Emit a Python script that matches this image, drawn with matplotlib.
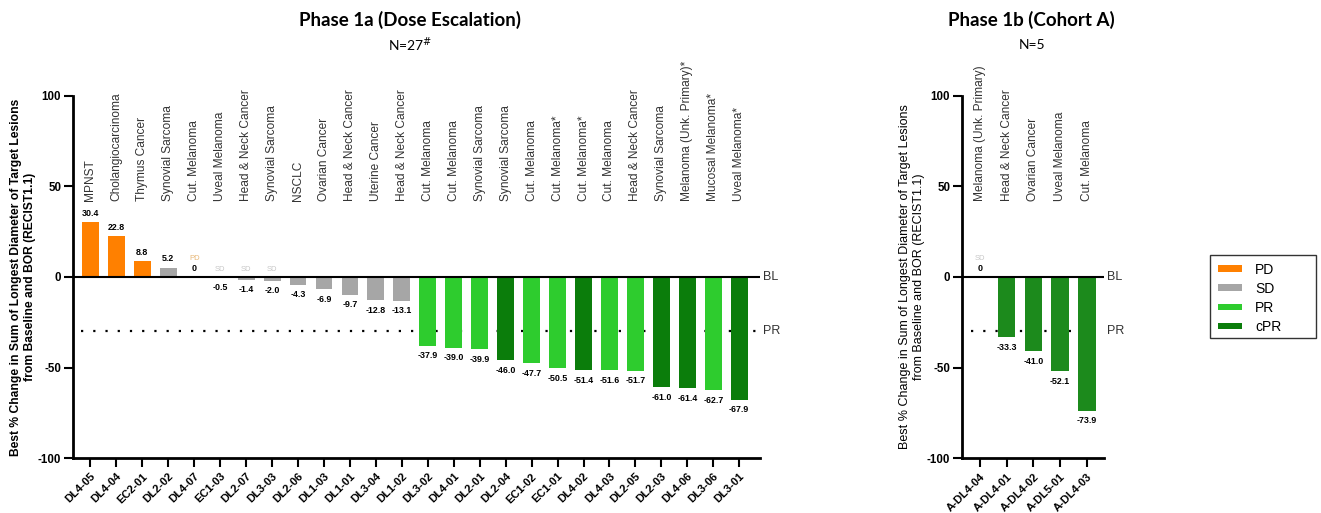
import matplotlib as mpl
mpl.use('Agg')
import matplotlib.pyplot as plt
from matplotlib.patches import Patch, Rectangle

plt.rcParams['font.family'] = ['Liberation Sans', 'DejaVu Sans']

# Phase 1a (dose escalation)
ids_1a = ["DL4-05", "DL4-04", "EC2-01", "DL2-02", "DL4-07", "EC1-03", "DL2-07",
          "DL3-03", "DL2-06", "DL1-03", "DL1-01", "DL3-04", "DL1-02", "DL3-02",
          "DL4-01", "DL2-01", "DL2-04", "EC1-02", "EC1-01", "DL4-02", "DL4-03",
          "DL2-05", "DL2-03", "DL4-06", "DL3-06", "DL3-01"]
cancer_1a = ["MPNST", "Cholangiocarcinoma", "Thymus Cancer", "Synovial Sarcoma",
             "Cut. Melanoma", "Uveal Melanoma", "Head & Neck Cancer",
             "Synovial Sarcoma", "NSCLC", "Ovarian Cancer", "Head & Neck Cancer",
             "Uterine Cancer", "Head & Neck Cancer", "Cut. Melanoma",
             "Cut. Melanoma", "Synovial Sarcoma", "Synovial Sarcoma",
             "Cut. Melanoma", "Cut. Melanoma*", "Cut. Melanoma*", "Cut. Melanoma",
             "Head & Neck Cancer", "Synovial Sarcoma", "Melanoma (Unk. Primary)*",
             "Mucosal Melanoma*", "Uveal Melanoma*"]
change_1a = [30.4, 22.8, 8.8, 5.2, 0, -0.5, -1.4, -2.0, -4.3, -6.9, -9.7, -12.8,
             -13.1, -37.9, -39.0, -39.9, -46.0, -47.7, -50.5, -51.4, -51.6, -51.7,
             -61.0, -61.4, -62.7, -67.9]
bor_1a = ["PD", "PD", "PD", "SD", "PD", "SD", "SD", "SD", "SD", "SD", "SD", "SD",
          "SD", "PR", "PR", "PR", "cPR", "PR", "PR", "cPR", "PR", "PR", "cPR",
          "cPR", "PR", "cPR"]
# small BOR tags shown above zero-height / tiny bars
tags_1a = {4: "PD", 5: "SD", 6: "SD", 7: "SD"}

# Phase 1b (cohort A)
ids_1b = ["A-DL4-04", "A-DL4-01", "A-DL4-02", "A-DL5-01", "A-DL4-03"]
cancer_1b = ["Melanoma (Unk. Primary)", "Head & Neck Cancer", "Ovarian Cancer",
             "Uveal Melanoma", "Cut. Melanoma"]
change_1b = [0, -33.3, -41.0, -52.1, -73.9]
tags_1b = {0: "SD"}

colors = {"PD": "#FF8000", "SD": "#A6A6A6", "PR": "#2ECC2E", "cPR": "#0B7D0B"}
cohort_color = "#1C8A1C"
tag_colors = {"PD": "#E8B878", "SD": "#C8C8C8"}

fig = plt.figure(figsize=(13.21, 5.13), dpi=100)
ax1 = fig.add_axes([0.0553, 0.1072, 0.520, 0.7057])
ax2 = fig.add_axes([0.7282, 0.1072, 0.1075, 0.7057])

ylab = ("Best % Change in Sum of Longest Diameter of Target Lesions\n"
        "from Baseline and BOR (RECIST1.1)")


def draw_panel(ax, ids, cancers, vals, cols, tags, xmax, weight, ysize, lpad):
    x = list(range(len(ids)))
    ax.plot([-0.35, xmax], [-30, -30], color="black", lw=1.6,
            linestyle=(0, (1, 4.5)), zorder=1, clip_on=False)
    ax.bar(x, vals, width=0.65, color=cols, zorder=2)
    ax.axhline(0, color="black", lw=1.5, zorder=3)
    ax.set_xlim(-0.67, xmax)
    ax.set_ylim(-100, 100)
    ax.set_yticks([100, 50, 0, -50, -100])
    ax.set_yticklabels(["100", "50", "0", "-50", "-100"], fontweight="bold",
                       fontsize=8.3)
    ax.set_xticks(x)
    ax.set_xticklabels(ids, rotation=45, ha="right", rotation_mode="anchor",
                       fontweight="bold", fontsize=8)
    ax.tick_params(axis="both", width=1.5, length=6.5, color="black")
    ax.tick_params(axis="y", pad=2)
    ax.tick_params(axis="x", pad=3)
    for s in ["top", "right"]:
        ax.spines[s].set_visible(False)
    for s in ["left", "bottom"]:
        ax.spines[s].set_linewidth(2)
    ax.set_ylabel(ylab, fontsize=ysize, fontweight=weight, labelpad=lpad,
                  linespacing=1.25)

    for i, v in enumerate(vals):
        txt = "0" if v == 0 else f"{v:.1f}"
        if v >= 0:
            ax.annotate(txt, (i, v), xytext=(0, 3), textcoords="offset points",
                        ha="center", va="bottom", fontsize=6.4, fontweight="bold")
        else:
            ax.annotate(txt, (i, v), xytext=(0, -4), textcoords="offset points",
                        ha="center", va="top", fontsize=6.4, fontweight="bold")
        ax.text(i, 42, cancers[i], rotation=90, ha="center",
                va="bottom", fontsize=8.6, color="#333333")
    for i, t in tags.items():
        dy = 11 if vals[i] == 0 else 3
        ax.annotate(t, (i, 0), xytext=(0, dy), textcoords="offset points",
                    ha="center", va="bottom", fontsize=5.5,
                    color=tag_colors[t])
    ax.text(xmax + 0.1, 0, "BL", va="center", ha="left", fontsize=9,
            color="#333333")
    ax.text(xmax + 0.1, -30, "PR", va="center", ha="left", fontsize=9,
            color="#333333")


draw_panel(ax1, ids_1a, cancer_1a, change_1a, [colors[b] for b in bor_1a],
           tags_1a, 25.8, "bold", 8.7, 1)
draw_panel(ax2, ids_1b, cancer_1b, change_1b, [cohort_color] * 5, tags_1b,
           4.64, "normal", 9.0, 1)

fig.text(0.3105, 0.961, "Phase 1a (Dose Escalation)", ha="center", va="center",
         fontsize=13.5, fontweight="bold", family="Lato")
fig.text(0.3105, 0.912, r"N=27$^{\#}$", ha="center", va="center", fontsize=10,
         family="Lato")
fig.text(0.781, 0.961, "Phase 1b (Cohort A)", ha="center", va="center",
         fontsize=13.5, fontweight="bold", family="Lato")
fig.text(0.781, 0.912, "N=5", ha="center", va="center", fontsize=10,
         family="Lato")

# legend box is wider than its contents in the original
fig.patches.append(Rectangle((0.916, 0.341), 0.0802, 0.1618,
                             transform=fig.transFigure, fill=False,
                             edgecolor="#333333", lw=1))
handles = [Patch(facecolor=colors[k], edgecolor="none", label=k)
           for k in ["PD", "SD", "PR", "cPR"]]
fig.legend(handles=handles, loc="upper left", bbox_to_anchor=(0.916, 0.503),
           borderaxespad=0, fontsize=10, frameon=False,
           handlelength=1.75, handleheight=0.36,
           labelspacing=0.37, handletextpad=0.95, borderpad=0.55)

plt.savefig("out.png", dpi=100)
